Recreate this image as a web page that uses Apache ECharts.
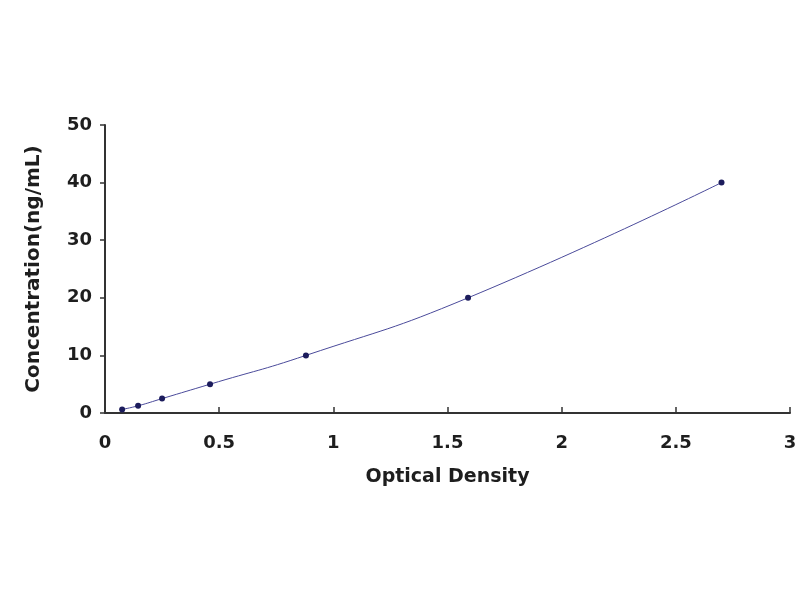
<!DOCTYPE html>
<html>
<head>
    <meta charset="utf-8" />
    <title>Standard Curve</title>
    <script src="https://cdn.jsdelivr.net/npm/echarts@6/dist/echarts.min.js"></script>
    <style>
        html, body { margin: 0; padding: 0; background: #fff; }
        #main { width: 800px; height: 600px; }
    </style>
</head>
<body>
    <div id="main"></div>
    <script type="text/javascript">
        // standard points
        var od = [0.075, 0.145, 0.25, 0.46, 0.88, 1.59, 2.70];
        var conc = [0.625, 1.25, 2.5, 5, 10, 20, 40];

        var points = od.map(function (x, i) { return [x, conc[i]]; });

        var boldFont = 'DejaVu Sans, Liberation Sans, Arial, sans-serif';
        var labelFont = {
            fontFamily: boldFont,
            fontWeight: 'bold',
            fontSize: 18,
            color: '#1e1e1e'
        };

        var chart = echarts.init(document.getElementById('main'));
        var option = {
            animation: false,
            grid: { left: 105, right: 10, top: 125, bottom: 187 },
            xAxis: {
                type: 'value',
                min: 0,
                max: 3,
                interval: 0.5,
                name: 'Optical Density',
                nameLocation: 'middle',
                nameGap: 55,
                nameTextStyle: {
                    fontFamily: boldFont,
                    fontWeight: 'bold',
                    fontSize: 19,
                    color: '#1e1e1e'
                },
                axisLine: { lineStyle: { color: '#333', width: 2 } },
                axisTick: { inside: true, length: 6, lineStyle: { color: '#333', width: 1.5 } },
                axisLabel: Object.assign({ margin: 21 }, labelFont),
                splitLine: { show: false }
            },
            yAxis: {
                type: 'value',
                min: 0,
                max: 50,
                interval: 10,
                name: 'Concentration(ng/mL)',
                nameLocation: 'middle',
                nameGap: 61,
                nameTextStyle: {
                    fontFamily: boldFont,
                    fontWeight: 'bold',
                    fontSize: 20,
                    color: '#1e1e1e'
                },
                axisLine: { show: true, lineStyle: { color: '#333', width: 2 } },
                axisTick: { show: true, length: 5, lineStyle: { color: '#333', width: 1.5 } },
                axisLabel: Object.assign({ margin: 13 }, labelFont),
                splitLine: { show: false }
            },
            series: [{
                type: 'line',
                data: points,
                smooth: true,
                symbol: 'circle',
                symbolSize: 6,
                lineStyle: { color: '#4a4a9a', width: 1 },
                itemStyle: { color: '#1c1c5c' }
            }]
        };
        chart.setOption(option);
    </script>
</body>
</html>
